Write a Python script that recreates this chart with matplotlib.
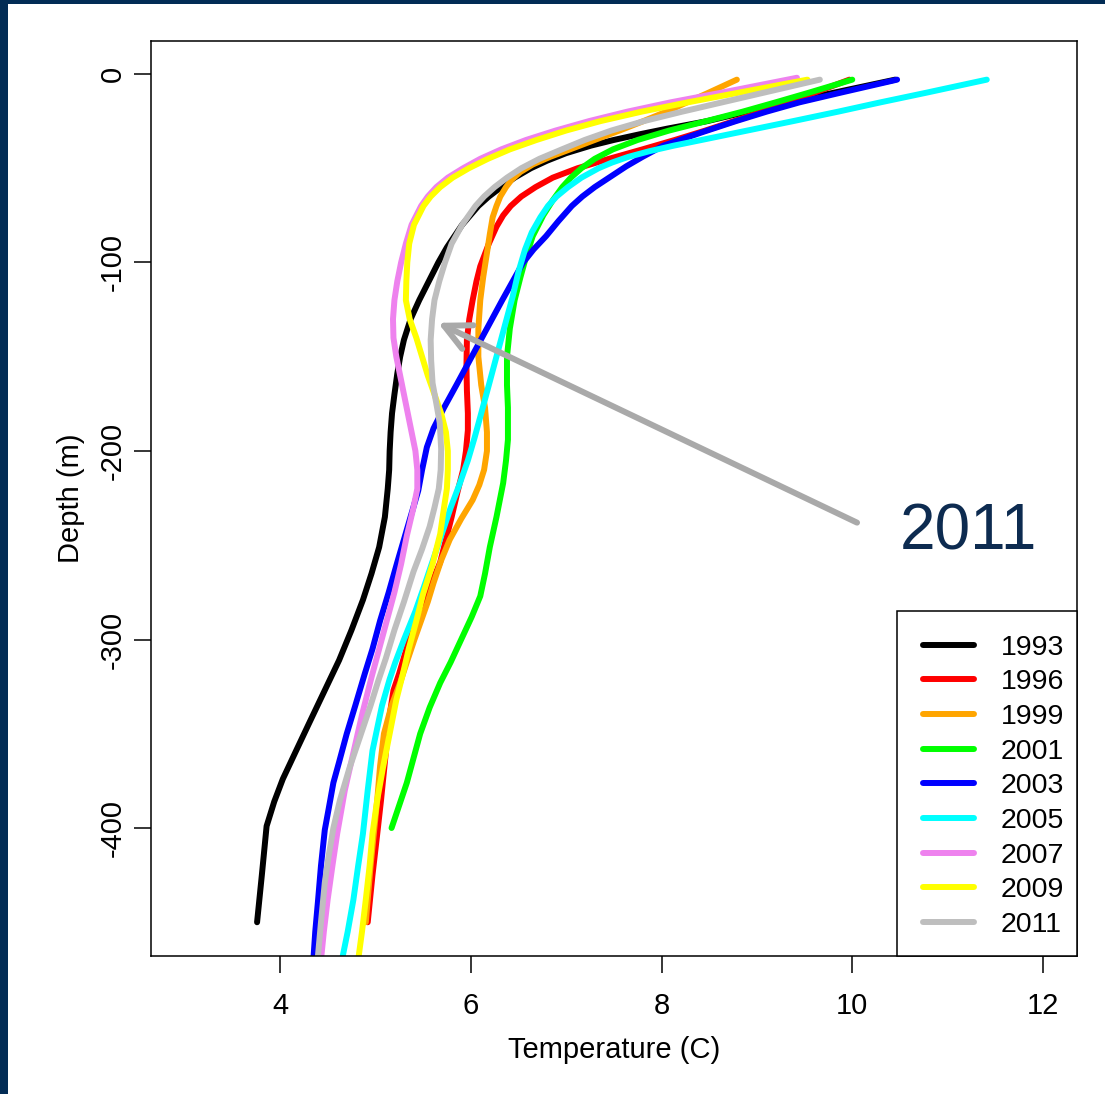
import matplotlib
matplotlib.use("Agg")
import matplotlib.pyplot as plt
from matplotlib.patches import Rectangle

plt.rcParams['font.family'] = ['Liberation Sans', 'DejaVu Sans']

# ---------------- data: (depth m, temperature C) ----------------
years = ["1993", "1996", "1999", "2001", "2003", "2005", "2007", "2009", "2011"]
colors = ["#000000", "#FF0000", "#FFA500", "#00FF00", "#0000FF",
          "#00FFFF", "#EE82EE", "#FFFF00", "#BEBEBE"]

profile_1993 = [(-3, 10.45), (-10, 9.80), (-15, 9.34), (-20, 8.90), (-25, 8.48), (-29, 8.06),
                (-32, 7.77), (-35, 7.50), (-38, 7.26), (-42, 7.00), (-46, 6.80), (-50, 6.63),
                (-55, 6.46), (-60, 6.32), (-65, 6.19), (-70, 6.08), (-80, 5.91), (-92, 5.75),
                (-100, 5.66), (-110, 5.56), (-120, 5.46), (-130, 5.37), (-141, 5.30), (-150, 5.26),
                (-159, 5.23), (-170, 5.20), (-180, 5.175), (-190, 5.16), (-200, 5.15), (-210, 5.145),
                (-220, 5.13), (-235, 5.10), (-251, 5.04), (-265, 4.96), (-279, 4.87), (-295, 4.75),
                (-311, 4.62), (-328, 4.46), (-345, 4.30), (-360, 4.16), (-374, 4.03), (-386, 3.94),
                (-399, 3.86), (-425, 3.81), (-450, 3.76)]

profile_1996 = [(-3, 9.97), (-10, 9.60), (-15, 9.33), (-20, 9.05), (-25, 8.76), (-30, 8.46),
                (-35, 8.14), (-40, 7.80), (-45, 7.45), (-50, 7.12), (-55, 6.86), (-60, 6.68),
                (-65, 6.53), (-70, 6.42), (-75, 6.34), (-81, 6.27), (-90, 6.19), (-102, 6.10),
                (-110, 6.06), (-120, 6.02), (-130, 5.985), (-141, 5.96), (-155, 5.955), (-168, 5.96),
                (-180, 5.97), (-189, 5.97), (-200, 5.95), (-210, 5.92), (-222, 5.86), (-235, 5.80),
                (-247, 5.74), (-259, 5.68), (-270, 5.59), (-279, 5.51), (-287, 5.45), (-295, 5.39),
                (-306, 5.32), (-318, 5.25), (-327, 5.19), (-340, 5.15), (-355, 5.12), (-370, 5.09),
                (-385, 5.06), (-403, 5.02), (-425, 4.97), (-450, 4.92)]

profile_1999 = [(-3, 8.79), (-10, 8.49), (-15, 8.27), (-20, 8.05), (-25, 7.81), (-30, 7.56),
                (-35, 7.30), (-40, 7.04), (-44, 6.83), (-48, 6.65), (-52, 6.52), (-56, 6.43),
                (-60, 6.37), (-65, 6.31), (-70, 6.27), (-76, 6.23), (-85, 6.20), (-95, 6.17),
                (-108, 6.13), (-120, 6.10), (-135, 6.08), (-150, 6.08), (-165, 6.11), (-177, 6.15),
                (-190, 6.17), (-200, 6.17), (-210, 6.14), (-218, 6.09), (-226, 6.02), (-236, 5.90),
                (-247, 5.78), (-258, 5.69), (-270, 5.61), (-280, 5.55), (-290, 5.48), (-300, 5.41),
                (-312, 5.33), (-323, 5.26), (-335, 5.17), (-350, 5.09), (-367, 5.05), (-385, 5.02),
                (-420, 4.95), (-450, 4.90)]

profile_2001 = [(-3, 10.00), (-10, 9.54), (-15, 9.20), (-20, 8.85), (-25, 8.47), (-30, 8.08),
                (-35, 7.75), (-40, 7.49), (-45, 7.30), (-50, 7.16), (-55, 7.05), (-60, 6.96),
                (-67, 6.86), (-75, 6.76), (-86, 6.65), (-97, 6.58), (-108, 6.52), (-120, 6.46),
                (-135, 6.41), (-150, 6.38), (-165, 6.38), (-177, 6.39), (-194, 6.39), (-205, 6.37),
                (-217, 6.34), (-235, 6.27), (-251, 6.20), (-265, 6.15), (-277, 6.10), (-288, 6.01),
                (-300, 5.90), (-312, 5.79), (-323, 5.68), (-336, 5.57), (-350, 5.47), (-363, 5.40),
                (-376, 5.33), (-388, 5.25), (-400, 5.17)]

profile_2003 = [(-3, 10.47), (-10, 9.87), (-15, 9.45), (-20, 9.10), (-25, 8.78), (-31, 8.42),
                (-38, 8.02), (-44, 7.80), (-49, 7.63), (-55, 7.45), (-60, 7.30), (-65, 7.17),
                (-70, 7.06), (-78, 6.92), (-86, 6.79), (-93, 6.66), (-100, 6.55), (-110, 6.44),
                (-120, 6.33), (-135, 6.17), (-150, 6.01), (-165, 5.85), (-177, 5.72), (-188, 5.61),
                (-198, 5.54), (-210, 5.49), (-221, 5.45), (-240, 5.34), (-259, 5.23), (-275, 5.14),
                (-290, 5.05), (-305, 4.97), (-318, 4.89), (-335, 4.79), (-350, 4.70), (-365, 4.62),
                (-376, 4.56), (-390, 4.51), (-401, 4.47), (-420, 4.43), (-438, 4.40), (-455, 4.37),
                (-470, 4.35), (-490, 4.32)]

profile_2005 = [(-3, 11.41), (-10, 10.77), (-15, 10.30), (-20, 9.85), (-25, 9.38), (-30, 8.90),
                (-35, 8.42), (-38, 8.13), (-41, 7.87), (-44, 7.65), (-47, 7.48), (-50, 7.34),
                (-55, 7.16), (-60, 7.02), (-65, 6.90), (-70, 6.81), (-76, 6.73), (-84, 6.64),
                (-93, 6.57), (-105, 6.50), (-118, 6.44), (-133, 6.36), (-148, 6.28), (-165, 6.19),
                (-180, 6.11), (-193, 6.04), (-205, 5.97), (-218, 5.88), (-230, 5.79), (-245, 5.69),
                (-260, 5.59), (-272, 5.51), (-285, 5.42), (-300, 5.30), (-312, 5.21), (-321, 5.15),
                (-335, 5.07), (-347, 5.02), (-359, 4.97), (-380, 4.92), (-403, 4.87), (-420, 4.82),
                (-438, 4.77), (-455, 4.71), (-470, 4.65), (-490, 4.60)]

profile_2007 = [(-2, 9.42), (-10, 8.62), (-15, 8.10), (-20, 7.64), (-25, 7.24), (-30, 6.89),
                (-35, 6.58), (-40, 6.32), (-45, 6.10), (-50, 5.92), (-55, 5.76), (-60, 5.64),
                (-65, 5.55), (-70, 5.48), (-80, 5.38), (-90, 5.32), (-100, 5.27), (-110, 5.23),
                (-120, 5.20), (-130, 5.185), (-140, 5.19), (-150, 5.22), (-160, 5.26), (-170, 5.30),
                (-180, 5.34), (-190, 5.38), (-200, 5.42), (-210, 5.44), (-220, 5.44), (-230, 5.40),
                (-245, 5.33), (-260, 5.27), (-275, 5.20), (-290, 5.12), (-305, 5.04), (-320, 4.96),
                (-340, 4.86), (-360, 4.77), (-380, 4.68), (-403, 4.60), (-420, 4.55), (-438, 4.50),
                (-455, 4.46), (-470, 4.43), (-490, 4.40)]

profile_2009 = [(-3, 9.53), (-10, 8.80), (-15, 8.28), (-20, 7.79), (-25, 7.36), (-30, 7.00),
                (-35, 6.69), (-40, 6.41), (-45, 6.18), (-50, 5.98), (-55, 5.81), (-60, 5.68),
                (-65, 5.58), (-70, 5.505), (-80, 5.405), (-90, 5.355), (-100, 5.335), (-110, 5.325),
                (-120, 5.32), (-130, 5.36), (-140, 5.43), (-150, 5.49), (-160, 5.55), (-170, 5.62),
                (-180, 5.69), (-190, 5.74), (-200, 5.76), (-210, 5.76), (-220, 5.75), (-230, 5.72),
                (-244, 5.68), (-260, 5.60), (-276, 5.50), (-290, 5.43), (-305, 5.35), (-318, 5.29),
                (-332, 5.22), (-350, 5.15), (-368, 5.08), (-385, 5.02), (-403, 4.97), (-420, 4.94),
                (-438, 4.90), (-455, 4.86), (-470, 4.82), (-490, 4.78)]

profile_2011 = [(-3, 9.66), (-10, 9.065), (-15, 8.64), (-20, 8.215), (-25, 7.815), (-30, 7.475),
                (-35, 7.195), (-40, 6.955), (-45, 6.72), (-50, 6.53), (-55, 6.38), (-60, 6.25),
                (-65, 6.14), (-70, 6.05), (-80, 5.91), (-90, 5.80), (-100, 5.73), (-110, 5.67),
                (-120, 5.62), (-130, 5.595), (-141, 5.58), (-152, 5.585), (-164, 5.60), (-175, 5.64),
                (-185, 5.675), (-199, 5.69), (-210, 5.685), (-220, 5.665), (-230, 5.62), (-240, 5.57),
                (-252, 5.49), (-264, 5.40), (-280, 5.30), (-295, 5.20), (-310, 5.11), (-322, 5.03),
                (-335, 4.95), (-350, 4.85), (-368, 4.73), (-385, 4.63), (-400, 4.56), (-415, 4.51),
                (-429, 4.47), (-450, 4.43), (-467, 4.40), (-490, 4.36)]

profiles = [profile_1993, profile_1996, profile_1999, profile_2001, profile_2003,
            profile_2005, profile_2007, profile_2009, profile_2011]

x_ticks = [4, 6, 8, 10, 12]
y_ticks = [0, -100, -200, -300, -400]

arrow_tip = (5.656, -132)
arrow_tail = (10.05, -238)
annot_label = "2011"

# ---------------- figure ----------------
W, H = 1105, 1094
fig = plt.figure(figsize=(W / 100, H / 100), dpi=100)
fig.patch.set_facecolor("white")
ax = fig.add_axes([151 / W, 1 - 956 / H, (1077 - 151) / W, (956 - 41) / H])

lw = 4.3
for prof, yr, c in zip(profiles, years, colors):
    d = [p[0] for p in prof]
    t = [p[1] for p in prof]
    ax.plot(t, d, color=c, lw=lw, solid_capstyle="round", solid_joinstyle="round", label=yr)

ax.set_xlim(2.648, 12.356)
ax.set_ylim(-467.9, 17.5)
ax.set_xticks(x_ticks)
ax.set_yticks(y_ticks)
ax.set_xticklabels([str(v) for v in x_ticks])
ax.set_yticklabels([str(v) for v in y_ticks], rotation=90, va="center")

for s in ax.spines.values():
    s.set_linewidth(1.1)
ax.tick_params(axis="both", length=12.2, width=1.1, labelsize=21, color="black")
ax.tick_params(axis="x", pad=14)
ax.tick_params(axis="y", pad=5)

ax.set_xlabel("Temperature (C)", fontsize=21, labelpad=11)
ax.set_ylabel("Depth (m)", fontsize=21, labelpad=10)

# arrow + annotation
ax.annotate("", xy=arrow_tip, xytext=arrow_tail,
            arrowprops=dict(arrowstyle="->,head_length=0.95,head_width=0.47",
                            color="#A9A9A9", lw=lw, mutation_scale=20,
                            shrinkA=0, shrinkB=0, capstyle="round", joinstyle="round"))
ax.text(11.22, -252.5, annot_label, fontsize=46, color="#0d2b50",
        ha="center", va="baseline")

# legend box (R style, flush with bottom-right corner of the plot)
ax.add_patch(Rectangle(((897 - 151) / 926, 0), (1077 - 897) / 926, (956 - 611) / 915,
                       transform=ax.transAxes, facecolor="white", edgecolor="black",
                       lw=1.1, zorder=4, clip_on=False))
leg = ax.legend(loc="upper left", bbox_to_anchor=((923 - 151) / 926, (956 - 634.6) / 915),
                borderaxespad=0, borderpad=0, frameon=False,
                fontsize=20.5, handlelength=1.79, handletextpad=0.93,
                labelspacing=0.305)
leg.set_zorder(5)
for ln in leg.get_lines():
    ln.set_linewidth(lw)
    ln.set_solid_capstyle("round")

# navy slide border
navy = "#022c55"
fig.add_artist(Rectangle((0, 0), 8 / W, 1, transform=fig.transFigure, color=navy, lw=0))
fig.add_artist(Rectangle((0, 1 - 4 / H), 1, 4 / H, transform=fig.transFigure, color=navy, lw=0))

fig.savefig("out.png", dpi=100, facecolor="white")
